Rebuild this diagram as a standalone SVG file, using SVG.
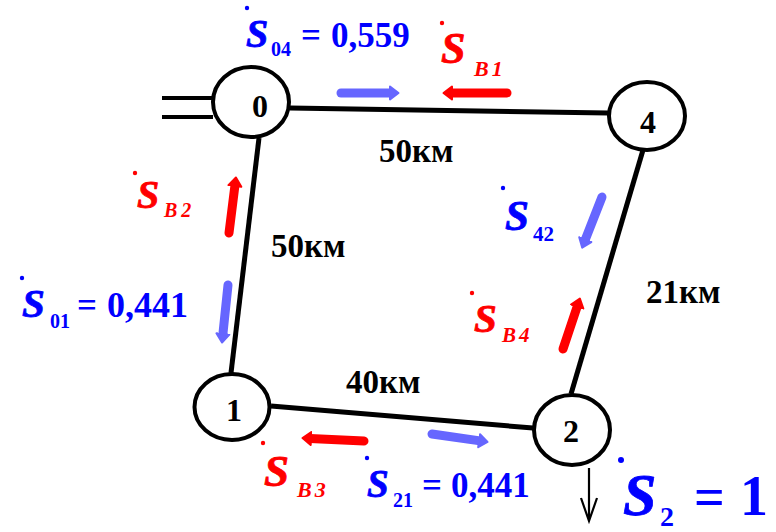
<svg xmlns="http://www.w3.org/2000/svg" width="776" height="532" viewBox="0 0 776 532">
<defs>
<style>
.edge{stroke:#000;stroke-width:5;fill:none}
.node ellipse{fill:#fff;stroke:#000;stroke-width:4}
.nl{font-family:"Liberation Serif","Times New Roman",serif;font-weight:bold;font-size:32px;fill:#000;text-anchor:middle}
.km{font-family:"Liberation Serif","Times New Roman",serif;font-weight:bold;font-size:33px;fill:#000}
.t{font-family:"Liberation Serif","Times New Roman",serif;font-weight:bold}
.it{font-style:italic}
.blue{fill:#0000ff}
.red{fill:#ff0000}
.sS{stroke-width:0.8px}
.blue.sS{stroke:#0000ff}
.red.sS{stroke:#ff0000}
.fb{stroke:#6666ff;stroke-width:9;stroke-linecap:round;fill:none;marker-end:url(#hb)}
.fr{stroke:#ff0000;stroke-width:9;stroke-linecap:round;fill:none;marker-end:url(#hr)}
</style>
<marker id="hb" markerUnits="userSpaceOnUse" markerWidth="11" markerHeight="16" viewBox="0 0 11 16" refX="2" refY="8" orient="auto">
<path d="M1,1.5 L9.5,8 L1,14.5 z" fill="#6666ff" stroke="#6666ff" stroke-width="2" stroke-linejoin="round"/>
</marker>
<marker id="hr" markerUnits="userSpaceOnUse" markerWidth="11" markerHeight="16" viewBox="0 0 11 16" refX="2" refY="8" orient="auto">
<path d="M1,1.5 L9.5,8 L1,14.5 z" fill="#ff0000" stroke="#ff0000" stroke-width="2" stroke-linejoin="round"/>
</marker>
</defs>
<g id="connectors">
<line class="edge" x1="290" y1="108" x2="608" y2="113"/>
<line class="edge" x1="259" y1="138" x2="231" y2="373"/>
<line class="edge" x1="643" y1="150" x2="571" y2="394"/>
<line class="edge" x1="271" y1="406" x2="533" y2="428"/>
<line x1="162" y1="98" x2="213" y2="98" stroke="#000" stroke-width="4"/>
<line x1="162" y1="117" x2="213" y2="117" stroke="#000" stroke-width="4"/>
<path d="M589,468 L589,521 M581,498 L589,521 L597,498" stroke="#000" stroke-width="2.2" fill="none"/>
</g>
<g id="flows">
<line class="fb" x1="341" y1="93" x2="391" y2="93"/>
<line class="fr" x1="507" y1="93" x2="451" y2="93"/>
<line class="fr" x1="229" y1="233" x2="235" y2="185"/>
<line class="fb" x1="228" y1="285" x2="222.8" y2="335"/>
<line class="fb" x1="602" y1="197" x2="584.9" y2="240.6"/>
<line class="fr" x1="563" y1="349" x2="577.5" y2="305.6"/>
<line class="fr" x1="364" y1="441" x2="310" y2="438.4"/>
<line class="fb" x1="432" y1="434" x2="480.1" y2="440.9"/>
</g>
<g id="node0" class="node"><ellipse cx="251" cy="102" rx="38" ry="35"/><text class="nl" x="260" y="117">0</text></g>
<g id="node4" class="node"><ellipse cx="647" cy="116" rx="38" ry="34"/><text class="nl" x="648" y="133">4</text></g>
<g id="node1" class="node"><ellipse cx="232" cy="407" rx="37.5" ry="33"/><text class="nl" x="234" y="421">1</text></g>
<g id="node2" class="node"><ellipse cx="572" cy="430" rx="38" ry="35"/><text class="nl" x="571" y="442">2</text></g>
<g id="labels">
<text class="km" x="379" y="162">50км</text>
<text class="km" x="271" y="257">50км</text>
<text class="km" x="646" y="303">21км</text>
<text class="km" x="346" y="393">40км</text>
</g>
<g id="S04">
<circle cx="247" cy="8" r="2.2" fill="#0000ff"/>
<text class="t it blue sS" x="246" y="47" font-size="40">S</text>
<text class="t blue" x="271" y="56" font-size="20">04</text>
<text class="t blue" x="301" y="47" font-size="35">=</text>
<text class="t blue" x="331" y="47" font-size="35">0,559</text>
</g>
<g id="SB1">
<circle cx="442" cy="23" r="2.2" fill="#ff0000"/>
<text class="t it red sS" x="441" y="63" font-size="44">S</text>
<text class="t it red" x="474" y="76" font-size="22" letter-spacing="3">B1</text>
</g>
<g id="SB2">
<circle cx="135" cy="173" r="2.2" fill="#ff0000"/>
<text class="t it red sS" x="137" y="208" font-size="40">S</text>
<text class="t it red" x="164" y="217" font-size="20" letter-spacing="4">B2</text>
</g>
<g id="S01">
<circle cx="22" cy="278" r="2.2" fill="#0000ff"/>
<text class="t it blue sS" x="22" y="317" font-size="41">S</text>
<text class="t blue" x="50" y="328" font-size="20">01</text>
<text class="t blue" x="77" y="317" font-size="35">=</text>
<text class="t blue" x="107" y="317" font-size="36">0,441</text>
</g>
<g id="S42">
<circle cx="503" cy="188" r="2.2" fill="#0000ff"/>
<text class="t it blue sS" x="505" y="230" font-size="43">S</text>
<text class="t blue" x="533" y="241" font-size="21">42</text>
</g>
<g id="SB4">
<circle cx="472" cy="293" r="2.2" fill="#ff0000"/>
<text class="t it red sS" x="474" y="332" font-size="41">S</text>
<text class="t it red" x="502" y="342" font-size="21" letter-spacing="3">B4</text>
</g>
<g id="SB3">
<circle cx="263" cy="443" r="2.2" fill="#ff0000"/>
<text class="t it red sS" x="264" y="486" font-size="45">S</text>
<text class="t it red" x="297" y="497" font-size="22" letter-spacing="3">B3</text>
</g>
<g id="S21">
<circle cx="367" cy="458" r="2.2" fill="#0000ff"/>
<text class="t it blue sS" x="367" y="497" font-size="39">S</text>
<text class="t blue" x="393" y="507" font-size="20">21</text>
<text class="t blue" x="422" y="497" font-size="35">=</text>
<text class="t blue" x="451" y="497" font-size="35">0,441</text>
</g>
<g id="S2">
<circle cx="621" cy="460" r="3" fill="#0000ff"/>
<text class="t it blue sS" x="623" y="515" font-size="60">S</text>
<text class="t blue" x="660" y="526" font-size="28">2</text>
<text class="t blue" x="694" y="515" font-size="54">=</text>
<text class="t blue" x="740" y="515" font-size="56">1</text>
</g>
</svg>
